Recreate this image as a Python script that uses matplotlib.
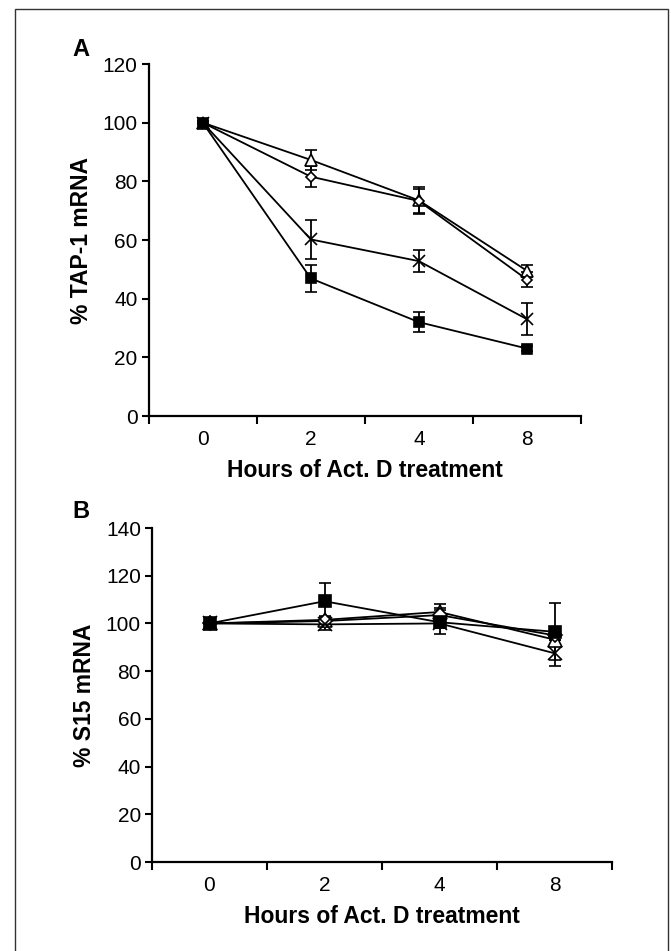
import matplotlib
matplotlib.use('Agg')
import matplotlib.pyplot as plt
from matplotlib.patches import Rectangle

plt.rcParams['font.family'] = ['Liberation Sans', 'DejaVu Sans']

hours = ['0', '2', '4', '8']

# panel A: % TAP-1 mRNA
tap_square = [100, 46.9, 32.0, 23.0]
tap_square_err = [0.5, 4.6, 3.5, 1.0]
tap_cross = [100, 60.2, 52.8, 33.0]
tap_cross_err = [0.5, 6.6, 3.7, 5.5]
tap_diamond = [100, 81.6, 73.3, 46.5]
tap_diamond_err = [0.5, 3.5, 4.0, 2.5]
tap_triangle = [100, 87.3, 73.5, 49.5]
tap_triangle_err = [0.5, 3.4, 4.5, 2.0]

# panel B: % S15 mRNA
s15_square = [100, 109.3, 100.5, 96.5]
s15_square_err = [0.5, 7.7, 5.0, 12.0]
s15_cross = [100, 99.6, 100.0, 87.5]
s15_cross_err = [0.5, 2.3, 2.0, 5.5]
s15_diamond = [100, 101.0, 103.5, 95.0]
s15_diamond_err = [0.5, 1.5, 3.0, 2.0]
s15_triangle = [100, 101.5, 104.8, 93.2]
s15_triangle_err = [0.5, 1.5, 3.5, 2.0]

W, H = 671, 951
fig = plt.figure(figsize=(W / 100, H / 100), dpi=100)

# outer frame
fig.patches.append(Rectangle((15 / W, -0.01), 653 / W, 1 - 9 / H + 0.01,
                             transform=fig.transFigure, fill=False,
                             edgecolor='#333333', linewidth=1.0))


def draw_panel(ax, series, ymax, ylabel, big):
    x = list(range(len(hours)))
    ms = 1.3 if big else 1.0
    for vals, err, marker, face, size in series:
        ax.errorbar(x, vals, yerr=err, color='black', linewidth=1.3,
                    marker=marker, markersize=size * ms, markerfacecolor=face,
                    markeredgecolor='black', markeredgewidth=1.2,
                    ecolor='black', elinewidth=1.3, capsize=4.5, capthick=1.3)
    ax.set_xlim(-0.5, len(hours) - 0.5)
    ax.set_ylim(0, ymax)
    ax.set_yticks(range(0, ymax + 1, 20))
    ax.set_xticks([i - 0.5 for i in range(len(hours) + 1)])
    ax.set_xticklabels([])
    ax.set_xticks(x, minor=True)
    ax.set_xticklabels(hours, minor=True)
    ax.tick_params(axis='x', which='minor', length=0, pad=10, labelsize=15)
    ax.tick_params(axis='x', which='major', direction='out', length=6, width=1.5)
    ax.tick_params(axis='y', direction='out', length=5, width=1.5, labelsize=15, pad=3)
    for s in ['top', 'right']:
        ax.spines[s].set_visible(False)
    for s in ['left', 'bottom']:
        ax.spines[s].set_linewidth(1.6)
    ax.set_xlabel('Hours of Act. D treatment', fontsize=16.5, fontweight='bold', labelpad=7)
    ax.set_ylabel(ylabel, fontsize=16.5, fontweight='bold', labelpad=7)


axA = fig.add_axes([148.7 / W, 1 - 416 / H, (581 - 148.7) / W, (416 - 64) / H])
draw_panel(axA, [
    (tap_triangle, tap_triangle_err, '^', 'white', 8),
    (tap_diamond, tap_diamond_err, 'D', 'white', 5.5),
    (tap_cross, tap_cross_err, 'x', 'black', 8),
    (tap_square, tap_square_err, 's', 'black', 7),
], 120, '% TAP-1 mRNA', False)

axB = fig.add_axes([152 / W, 1 - 862 / H, (612 - 152) / W, (862 - 528) / H])
draw_panel(axB, [
    (s15_triangle, s15_triangle_err, '^', 'white', 8),
    (s15_diamond, s15_diamond_err, 'D', 'white', 5.5),
    (s15_cross, s15_cross_err, 'x', 'black', 8),
    (s15_square, s15_square_err, 's', 'black', 7),
], 140, '% S15 mRNA', True)

# panel letters
fig.text(72 / W, 1 - 50 / H, 'A', fontsize=17, fontweight='bold', ha='left', va='center')
fig.text(72 / W, 1 - 512 / H, 'B', fontsize=17, fontweight='bold', ha='left', va='center')

fig.savefig('out.png', dpi=100)
